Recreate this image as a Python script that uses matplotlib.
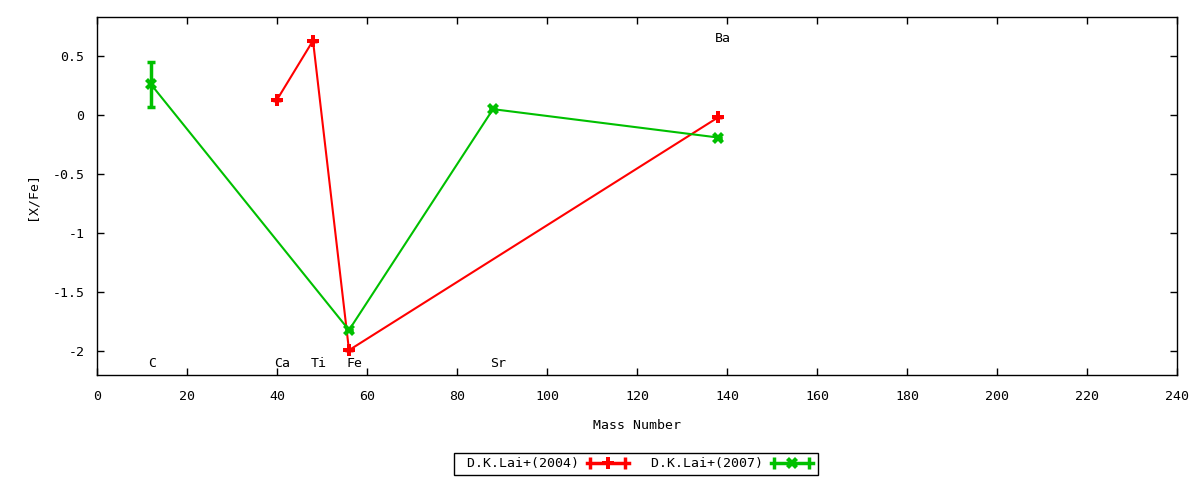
import matplotlib
matplotlib.use("Agg")
import matplotlib.pyplot as plt
from matplotlib.lines import Line2D
from matplotlib.legend_handler import HandlerLine2D, HandlerTuple

plt.rcParams['font.family'] = ['DejaVu Sans Mono']
plt.rcParams['font.size'] = 9.5

# Data
lai2004_mass = [40, 48, 56, 138]
lai2004_xfe = [0.13, 0.63, -1.99, -0.02]
lai2004_err = [0.0, 0.0, 0.0, 0.0]

lai2007_mass = [12, 56, 88, 138]
lai2007_xfe = [0.26, -1.82, 0.05, -0.19]
lai2007_err = [0.19, 0.0, 0.0, 0.0]

element_names = ["C", "Ca", "Ti", "Fe", "Sr", "Ba"]
element_mass = [12, 40, 48, 56, 88, 138]
element_label_y = [-2.1, -2.1, -2.1, -2.1, -2.1, 0.65]

series_labels = ['D.K.Lai+(2004)', 'D.K.Lai+(2007)']

red = '#ff0000'
green = '#00c000'

fig = plt.figure(figsize=(12, 4.8), dpi=100)
ax = fig.add_axes([97/1200, 1-375/480, 1080/1200, 358/480])

for mass, xfe, err, col, mk in [(lai2004_mass, lai2004_xfe, lai2004_err, red, 'P'),
                               (lai2007_mass, lai2007_xfe, lai2007_err, green, 'X')]:
    ax.errorbar(mass, xfe, yerr=err, fmt='none', ecolor=col,
                elinewidth=2.5, capsize=3, capthick=2.5)
    ax.plot(mass, xfe, color=col, lw=1.5, marker=mk, ms=8.5, mew=0)

for name, m, yl in zip(element_names, element_mass, element_label_y):
    ax.text(m - 0.6, yl, name, ha='left', va='center')

ax.set_xlim(0, 240)
ax.set_ylim(-2.2, 0.83)
ax.set_xticks(range(0, 241, 20))
ax.set_yticks([0.5, 0, -0.5, -1, -1.5, -2])
ax.set_yticklabels(['0.5', '0', '-0.5', '-1', '-1.5', '-2'])
ax.tick_params(direction='in', top=True, right=True, length=5, width=1)
ax.tick_params(axis='y', pad=9)
ax.tick_params(axis='x', pad=11)
for s in ax.spines.values():
    s.set_linewidth(1)
ax.set_xlabel('Mass Number', labelpad=11)
ax.set_ylabel('[X/Fe]', labelpad=10)

def make_handle(color, marker):
    line = Line2D([], [], color=color, lw=2.5)
    caps = Line2D([], [], color=color, lw=0, marker='|', ms=8, mew=2.5)
    mk = Line2D([], [], color=color, lw=0, marker=marker, ms=8.5, mew=0)
    return (line, caps, mk), caps

h1, c1 = make_handle(red, 'P')
h2, c2 = make_handle(green, 'X')
leg = fig.legend([h1, h2], [' ' + s for s in series_labels],
                 loc='center', bbox_to_anchor=(636/1200, 1-464/480),
                 ncol=2, markerfirst=False, frameon=True, fancybox=False,
                 edgecolor='black', framealpha=1, handlelength=3.25,
                 borderpad=0.35, columnspacing=1.0, handletextpad=0.6,
                 handler_map={tuple: HandlerTuple(ndivide=1),
                              c1: HandlerLine2D(numpoints=2),
                              c2: HandlerLine2D(numpoints=2)})
leg.get_frame().set_linewidth(1)

fig.savefig('out.png', dpi=100)
